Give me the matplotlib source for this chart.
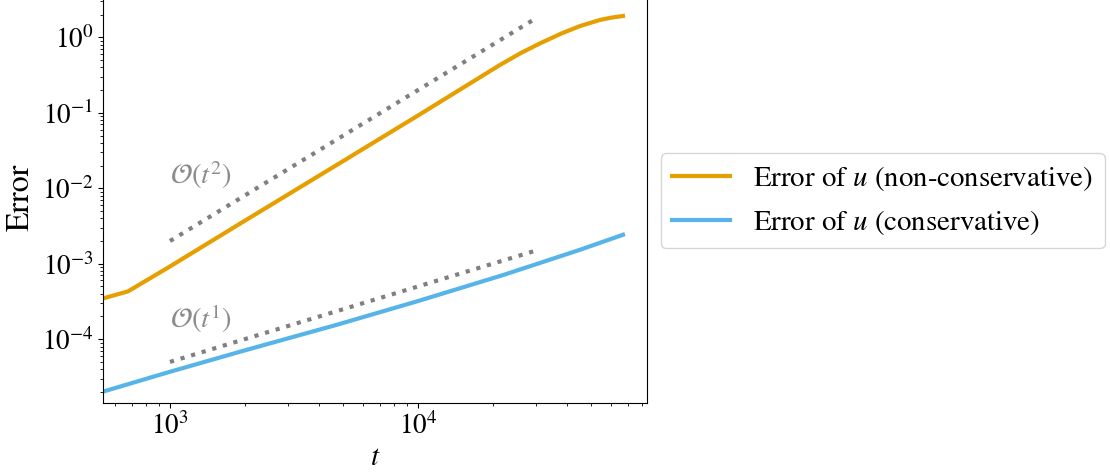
import numpy as np
import matplotlib
matplotlib.use("Agg")
import matplotlib.pyplot as plt

plt.rcParams["font.family"] = ["STIXGeneral", "DejaVu Serif"]
plt.rcParams["mathtext.fontset"] = "stix"

# error of u, non-conservative scheme
t_noncons = [537, 677, 1000, 2000, 5000, 10000, 21400, 26000, 31000, 38000,
             45000, 54200, 60000, 67100]
err_noncons = [3.47e-4, 4.3e-4, 9.2e-4, 3.7e-3, 2.3e-2, 9.2e-2, 0.43, 0.62,
               0.83, 1.13, 1.41, 1.70, 1.82, 1.92]

# error of u, conservative scheme
t_cons = [537, 1000, 2000, 4700, 10000, 22100, 45000, 67100]
err_cons = [2.02e-5, 3.7e-5, 7.1e-5, 1.55e-4, 3.2e-4, 7.1e-4, 1.53e-3, 2.42e-3]

# reference slopes
t_ref = [1000, 30000]
ref_t2 = [2e-3, 1.8]
ref_t1 = [5e-5, 1.5e-3]

fig = plt.figure(figsize=(11.1, 4.74), dpi=100)
ax = fig.add_axes([0.0928, 0.1504, 0.4898, 0.8667])

ax.loglog(t_noncons, err_noncons, color="#E69F00", lw=3,
          label="Error of $u$ (non-conservative)")
ax.loglog(t_cons, err_cons, color="#56B4E9", lw=3,
          label="Error of $u$ (conservative)")
ax.loglog(t_ref, ref_t2, ls=":", color="gray", lw=3)
ax.loglog(t_ref, ref_t1, ls=":", color="gray", lw=3)

ax.text(1000, 1.51e-2, r"$\mathcal{O}(t^2)$", color="gray", fontsize=20.5,
        ha="left", va="center", alpha=0.9)
ax.text(1000, 1.86e-4, r"$\mathcal{O}(t^1)$", color="gray", fontsize=20.5,
        ha="left", va="center", alpha=0.9)

ax.set_xlim(537, 83600)
ax.set_ylim(1.44e-5, 4.0)
ax.tick_params(labelsize=19.5)
ax.set_xlabel("$t$", fontsize=21)
ax.set_ylabel("Error", fontsize=23)

ax.legend(loc="center left", bbox_to_anchor=(660.7 / 1110, 0.577),
          bbox_transform=fig.transFigure, borderaxespad=0, fontsize=20.8)

fig.savefig("out.png", dpi=100)
